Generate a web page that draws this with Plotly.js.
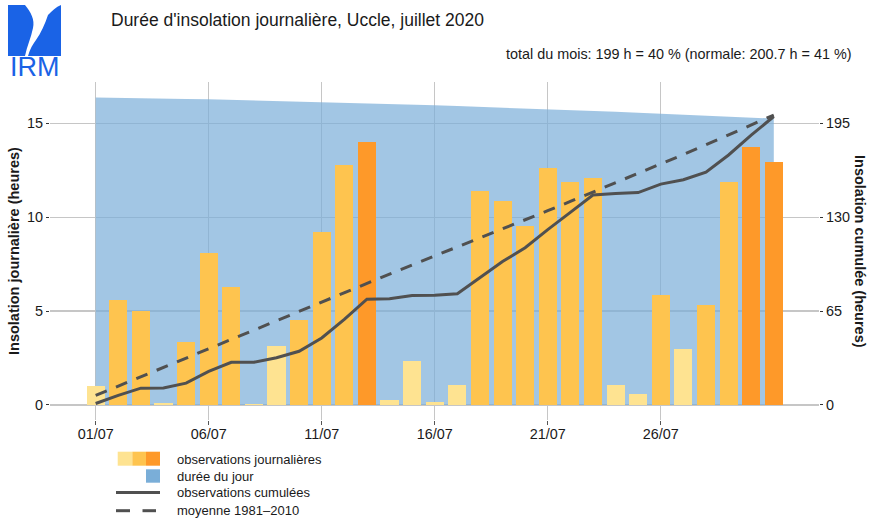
<!DOCTYPE html>
<html>
<head>
<meta charset="utf-8">
<script src="https://cdn.plot.ly/plotly-3.0.1.min.js"></script>
<style>html,body{margin:0;padding:0;background:#fff;}#chart{width:869px;height:520px;}</style>
</head>
<body>
<div id="chart"></div>
<script>
// ---- data ----
const days = [1,2,3,4,5,6,7,8,9,10,11,12,13,14,15,16,17,18,19,20,21,22,23,24,25,26,27,28,29,30,31];
const dailySun = [1.03,5.59,5.0,0.12,3.37,8.12,6.28,0.05,3.14,4.5,9.22,12.77,14.03,0.25,2.36,0.16,1.05,11.37,10.87,9.54,12.6,11.88,12.09,1.05,0.59,5.87,3.0,5.32,11.85,13.72,12.93];
const dayLength = [16.37,16.36,16.34,16.32,16.30,16.28,16.25,16.23,16.20,16.17,16.14,16.11,16.07,16.04,16.00,15.96,15.92,15.88,15.84,15.80,15.75,15.71,15.66,15.61,15.56,15.51,15.46,15.41,15.35,15.30,15.25];
const normalCum = [6.6,13.1,19.6,26.1,32.6,39.0,45.5,51.9,58.3,64.8,71.2,77.7,84.3,90.6,96.9,103.1,109.4,115.7,121.9,128.2,134.5,140.9,147.3,153.7,160.2,166.8,173.4,180.1,186.8,193.7,200.7];
const tickDays = [1,6,11,16,21,26];
const tickLabels = ['01/07','06/07','11/07','16/07','21/07','26/07'];
const leftTicks = [0,5,10,15];
const rightTicks = [0,65,130,195];
const legendLabels = ['observations journalières','durée du jour','observations cumulées','moyenne 1981\u20132010'];
const titleText = "Durée d'insolation journalière, Uccle, juillet 2020";
const subtitleText = 'total du mois: 199 h = 40 % (normale: 200.7 h = 41 %)';

// ---- derived ----
const cumSun = [];
dailySun.reduce((acc, v, i) => { cumSun[i] = acc + v; return cumSun[i]; }, 0);
const C_LIGHT = '#fee391', C_MED = '#fec44f', C_DARK = '#fe9929';
const barColors = dailySun.map((v, i) => {
  const r = v / dayLength[i];
  return r < 0.2 ? C_LIGHT : (r < 0.82 ? C_MED : C_DARK);
});

// ---- geometry helpers (pixel -> paper) ----
const W = 869, H = 520, ML = 50, MR = 50, MT = 82, MB = 100;
const PW = W - ML - MR, PH = H - MT - MB;
const X = px => (px - ML) / PW;
const Y = py => (H - MB - py) / PH;
function path(cmds) {
  return cmds.map(c => {
    if (c[0] === 'Z') return 'Z';
    let s = c[0];
    for (let i = 1; i < c.length; i += 2) s += ' ' + X(c[i]).toFixed(5) + ',' + Y(c[i + 1]).toFixed(5);
    return s;
  }).join(' ');
}

const FONT = 'Liberation Sans, Arial, Helvetica, sans-serif';
const TXT = '#1a1a1a';
const GRID = '#c6c6c6';
const LINEC = '#505050';
const BLUE = 'rgba(122,174,216,0.7)';
const LOGO = '#1a63e6';

const traces = [
  {
    type: 'scatter', mode: 'lines', x: days, y: dayLength,
    fill: 'tozeroy', fillcolor: BLUE, line: {width: 0, color: BLUE},
    hoverinfo: 'skip', showlegend: false, xaxis: 'x', yaxis: 'y'
  },
  {
    type: 'bar', x: days, y: dailySun, width: 0.8,
    marker: {color: barColors, line: {width: 0}},
    showlegend: false, xaxis: 'x', yaxis: 'y2'
  },
  {
    type: 'scatter', mode: 'lines', x: days, y: normalCum,
    line: {color: LINEC, width: 3, dash: '12px,10px'},
    showlegend: false, xaxis: 'x', yaxis: 'y3'
  },
  {
    type: 'scatter', mode: 'lines', x: days, y: cumSun,
    line: {color: LINEC, width: 3},
    showlegend: false, xaxis: 'x', yaxis: 'y3'
  }
];

const shapes = [
  // logo
  {type: 'path', xref: 'paper', yref: 'paper', fillcolor: LOGO, line: {width: 0},
   path: path([['M',8,5],['L',25,5],['C',31,12,35,20,33,28],['C',31,38,27,46,25,56],['L',8,56],['Z']])},
  {type: 'path', xref: 'paper', yref: 'paper', fillcolor: LOGO, line: {width: 0},
   path: path([['M',61,5],['L',61,56],['L',28,56],['C',30,49,33,44,36,40],['C',41,33,45,24,48,15],['C',52,11,56,7,61,5],['Z']])},
  // legend swatches
  {type: 'rect', xref: 'paper', yref: 'paper', x0: X(117.7), x1: X(132.3), y0: Y(465.7), y1: Y(451.7), fillcolor: C_LIGHT, line: {width: 0}},
  {type: 'rect', xref: 'paper', yref: 'paper', x0: X(132.3), x1: X(146), y0: Y(465.7), y1: Y(451.7), fillcolor: C_MED, line: {width: 0}},
  {type: 'rect', xref: 'paper', yref: 'paper', x0: X(146), x1: X(160), y0: Y(465.7), y1: Y(451.7), fillcolor: C_DARK, line: {width: 0}},
  {type: 'rect', xref: 'paper', yref: 'paper', x0: X(146), x1: X(160), y0: Y(482.7), y1: Y(469.3), fillcolor: '#7aaed8', line: {width: 0}},
  {type: 'line', xref: 'paper', yref: 'paper', x0: X(116), x1: X(160), y0: Y(492.5), y1: Y(492.5), line: {color: LINEC, width: 3}},
  {type: 'line', xref: 'paper', yref: 'paper', x0: X(116), x1: X(130), y0: Y(510.7), y1: Y(510.7), line: {color: LINEC, width: 3}},
  {type: 'line', xref: 'paper', yref: 'paper', x0: X(142.5), x1: X(156), y0: Y(510.7), y1: Y(510.7), line: {color: LINEC, width: 3}}
];

const legendY = [459, 476, 493, 510];
const annotations = legendLabels.map((t, i) => ({
  text: t, xref: 'paper', yref: 'paper', x: X(175), y: Y(legendY[i]),
  xanchor: 'left', yanchor: 'middle', showarrow: false,
  font: {family: FONT, size: 13, color: TXT}
}));
annotations.push(
  {text: subtitleText, xref: 'paper', yref: 'paper', x: X(854), y: Y(54), xanchor: 'right', yanchor: 'middle',
   showarrow: false, font: {family: FONT, size: 14.4, color: TXT}},
  {text: 'Insolation journalière (heures)', xref: 'paper', yref: 'paper', x: X(14), y: 0.5, textangle: -90,
   xanchor: 'center', yanchor: 'middle', showarrow: false, font: {family: FONT, size: 14.5, color: TXT, weight: 'bold'}},
  {text: 'Insolation cumulée (heures)', xref: 'paper', yref: 'paper', x: X(860), y: 0.5, textangle: 90,
   xanchor: 'center', yanchor: 'middle', showarrow: false, font: {family: FONT, size: 14.5, color: TXT, weight: 'bold'}},
  {text: 'IRM', xref: 'paper', yref: 'paper', x: X(35), y: Y(67.5), xanchor: 'center', yanchor: 'middle',
   showarrow: false, font: {family: FONT, size: 27, color: LOGO}}
);

const yMin = -0.8, yMax = 17.2, ratio = 13;
const tickFont = {family: FONT, size: 14.4, color: TXT};
const layout = {
  width: W, height: H,
  margin: {l: ML, r: MR, t: MT, b: MB, pad: 0},
  paper_bgcolor: '#ffffff', plot_bgcolor: '#ffffff',
  font: {family: FONT, size: 14.4, color: TXT},
  title: {text: titleText, x: 111 / W, xref: 'container', xanchor: 'left',
          y: 1 - 20 / H, yref: 'container', yanchor: 'middle',
          font: {family: FONT, size: 17.5, color: TXT}},
  showlegend: false,
  bargap: 0,
  xaxis: {
    range: [-1.02, 33.0], tickmode: 'array', tickvals: tickDays, ticktext: tickLabels,
    showgrid: true, gridcolor: GRID, gridwidth: 1.4, zeroline: false, showline: false,
    ticks: 'outside', ticklen: 4, tickcolor: '#555', tickwidth: 1, ticklabelstandoff: -3,
    tickfont: tickFont, fixedrange: true
  },
  yaxis: {
    range: [yMin, yMax], tickmode: 'array', tickvals: leftTicks,
    showgrid: true, gridcolor: GRID, gridwidth: 1.4, zeroline: false, showline: false,
    ticks: 'outside', ticklen: 3, tickcolor: '#333', tickwidth: 1,
    tickfont: tickFont, fixedrange: true
  },
  yaxis2: {
    overlaying: 'y', side: 'left', range: [yMin, yMax], visible: false,
    showgrid: false, zeroline: false, fixedrange: true
  },
  yaxis3: {
    overlaying: 'y', side: 'right', range: [yMin * ratio, yMax * ratio],
    tickmode: 'array', tickvals: rightTicks,
    showgrid: false, zeroline: false, showline: false,
    ticks: 'outside', ticklen: 3, tickcolor: '#333', tickwidth: 1,
    tickfont: tickFont, fixedrange: true
  },
  shapes: shapes,
  annotations: annotations
};

Plotly.newPlot('chart', traces, layout, {displayModeBar: false, staticPlot: true});
</script>
</body>
</html>
